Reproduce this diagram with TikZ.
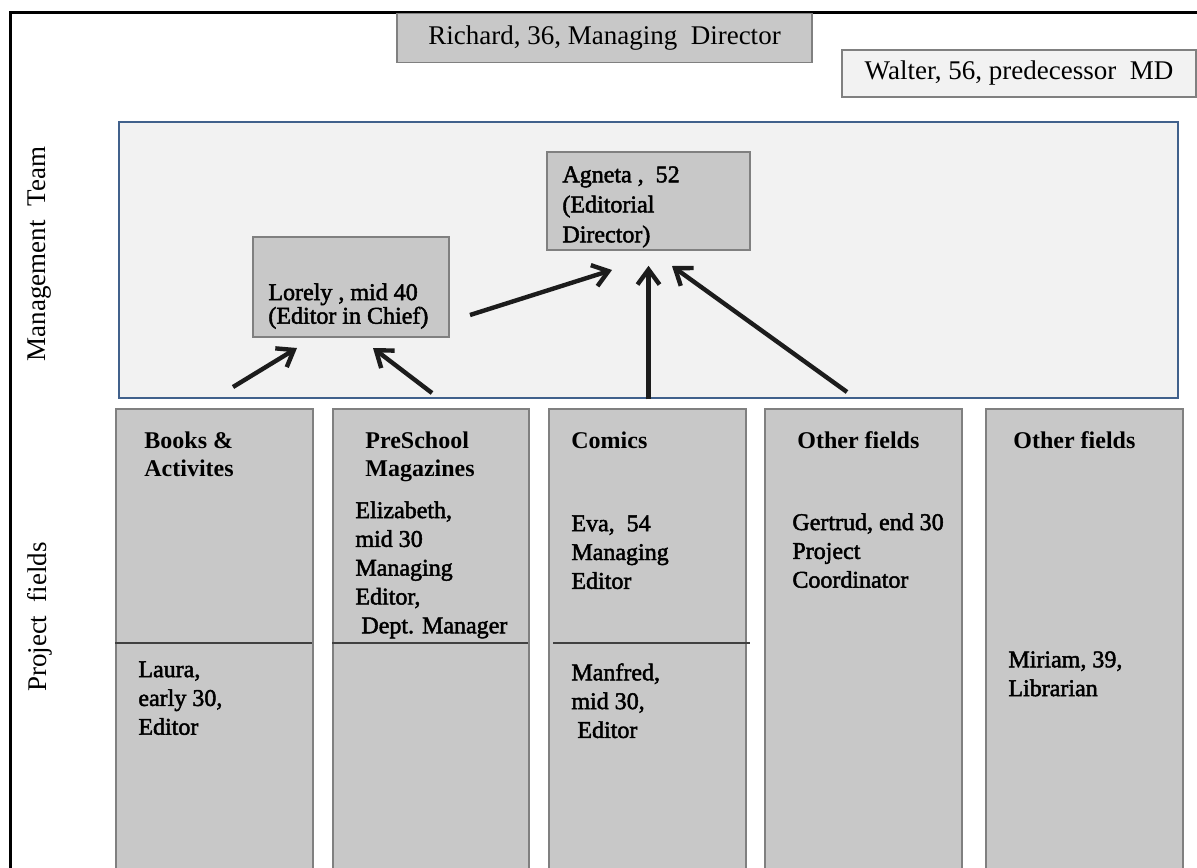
\documentclass[tikz,border=0pt]{standalone}
\usepackage{fontspec}
\setmainfont{Liberation Serif}
\newfontfamily\bodyfont[FakeBold=2]{Liberation Serif}
\usetikzlibrary{arrows.meta}
\definecolor{boxgray}{HTML}{C8C8C8}
\definecolor{boxedge}{HTML}{808080}
\definecolor{lightfill}{HTML}{F2F2F2}
\definecolor{mgmtedge}{HTML}{41618C}
\definecolor{arrowc}{HTML}{1C1C1C}
\begin{document}
\begin{tikzpicture}[x=0.5pt,y=-0.5pt,
  graybox/.style={draw=boxedge, fill=boxgray, line width=0.8pt, inner sep=0},
  colbox/.style={graybox, anchor=north west, minimum height=240pt},
  head/.style={font=\fontsize{12}{14.4}\selectfont\bfseries, align=left, anchor=north west, inner sep=0},
  body/.style={font=\fontsize{12}{14.4}\selectfont\bodyfont, align=left, anchor=north west, inner sep=0},
  side/.style={font=\fontsize{13.5}{16}\selectfont, rotate=90, inner sep=0},
  arr/.style={draw=arrowc, line width=2.2pt, -{Straight Barb[length=7.5pt,width=11pt]}},
  divider/.style={draw=black!75, line width=0.8pt}
]
\useasboundingbox (0,0) rectangle (1197,867);
\clip (0,0) rectangle (1197,867);
\fill[white] (0,0) rectangle (1197,867);

% outer frame
\draw[line width=1.5pt] (10,900) -- (10,12) -- (1220,12);

% top boxes
\node[graybox, minimum width=207.5pt, minimum height=24.5pt, font=\fontsize{13.5}{16}\selectfont] (richard) at (604.5,38) {Richard, 36, Managing~~Director};
\node[graybox, fill=lightfill, minimum width=177pt, minimum height=23.5pt, font=\fontsize{13.5}{16}\selectfont] (walter) at (1019,73.5) {Walter, 56, predecessor~~MD};

% management team area
\node[draw=mgmtedge, fill=lightfill, line width=1.3pt, minimum width=529.5pt, minimum height=138pt, inner sep=0] (mgmt) at (648.5,260) {};
\node[graybox, minimum width=101.5pt, minimum height=49pt] (agneta) at (648.5,201) {};
\node[graybox, minimum width=98pt, minimum height=50pt] (lorely) at (351,287) {};
\node[body, font=\fontsize{12}{15}\selectfont\bodyfont] (agnetatxt) at (562,166) {Agneta ,~~52\\(Editorial\\Director)};
\node[body, font=\fontsize{12}{11.8}\selectfont\bodyfont] (lorelytxt) at (268,283) {Lorely , mid 40\\(Editor in Chief)};

% side labels
\node[side] (mlabel) at (40,254) {Management~~Team};
\node[side] (plabel) at (40,617) {Project~~fields};

% project field columns
\node[colbox, minimum width=98.5pt] (c1) at (115,408) {};
\node[colbox, minimum width=98pt] (c2) at (332,408) {};
\node[colbox, minimum width=98.5pt] (c3) at (548,408) {};
\node[colbox, minimum width=98.5pt] (c4) at (764,408) {};
\node[colbox, minimum width=98.5pt] (c5) at (985,408) {};

\draw[divider] (115,643) -- (312,643);
\draw[divider] (332,643) -- (528,643);
\draw[divider] (553,643) -- (750,643);

% headers
\node[head] (h1) at (144,431) {Books \&\\Activites};
\node[head] (h2) at (365,431) {PreSchool\\Magazines};
\node[head] (h3) at (571,431) {Comics};
\node[head] (h4) at (797,431) {Other fields};
\node[head] (h5) at (1013,431) {Other fields};

% people
\node[body] (eliz) at (355,501) {Elizabeth,\\mid 30\\Managing\\Editor,\\\ Dept. Manager};
\node[body] (eva) at (571,515) {Eva,~~54\\Managing\\Editor};
\node[body] (gert) at (792,513) {Gertrud, end 30\\Project\\Coordinator};
\node[body] (laura) at (138,661) {Laura,\\early 30,\\Editor};
\node[body] (manf) at (571,663) {Manfred,\\mid 30,\\\ Editor};
\node[body] (miriam) at (1008,651) {Miriam, 39,\\Librarian};

% arrow end points
\coordinate (t1) at (233,387);
\coordinate (p1) at (297,348);
\coordinate (t2) at (432,393);
\coordinate (p2) at (373,348);
\coordinate (t3) at (470,315);
\coordinate (p3) at (612,270);
\coordinate (t5) at (847,392);
\coordinate (p5) at (672,266);

\draw[arr] (t1) -- (p1);
\draw[arr] (t2) -- (p2);
\draw[arr] (t3) -- (p3);
\draw[arr] (agneta.south |- mgmt.south) -- ([yshift=-7.5pt]agneta.south);
\draw[arr] (t5) -- (p5);
\end{tikzpicture}
\end{document}
